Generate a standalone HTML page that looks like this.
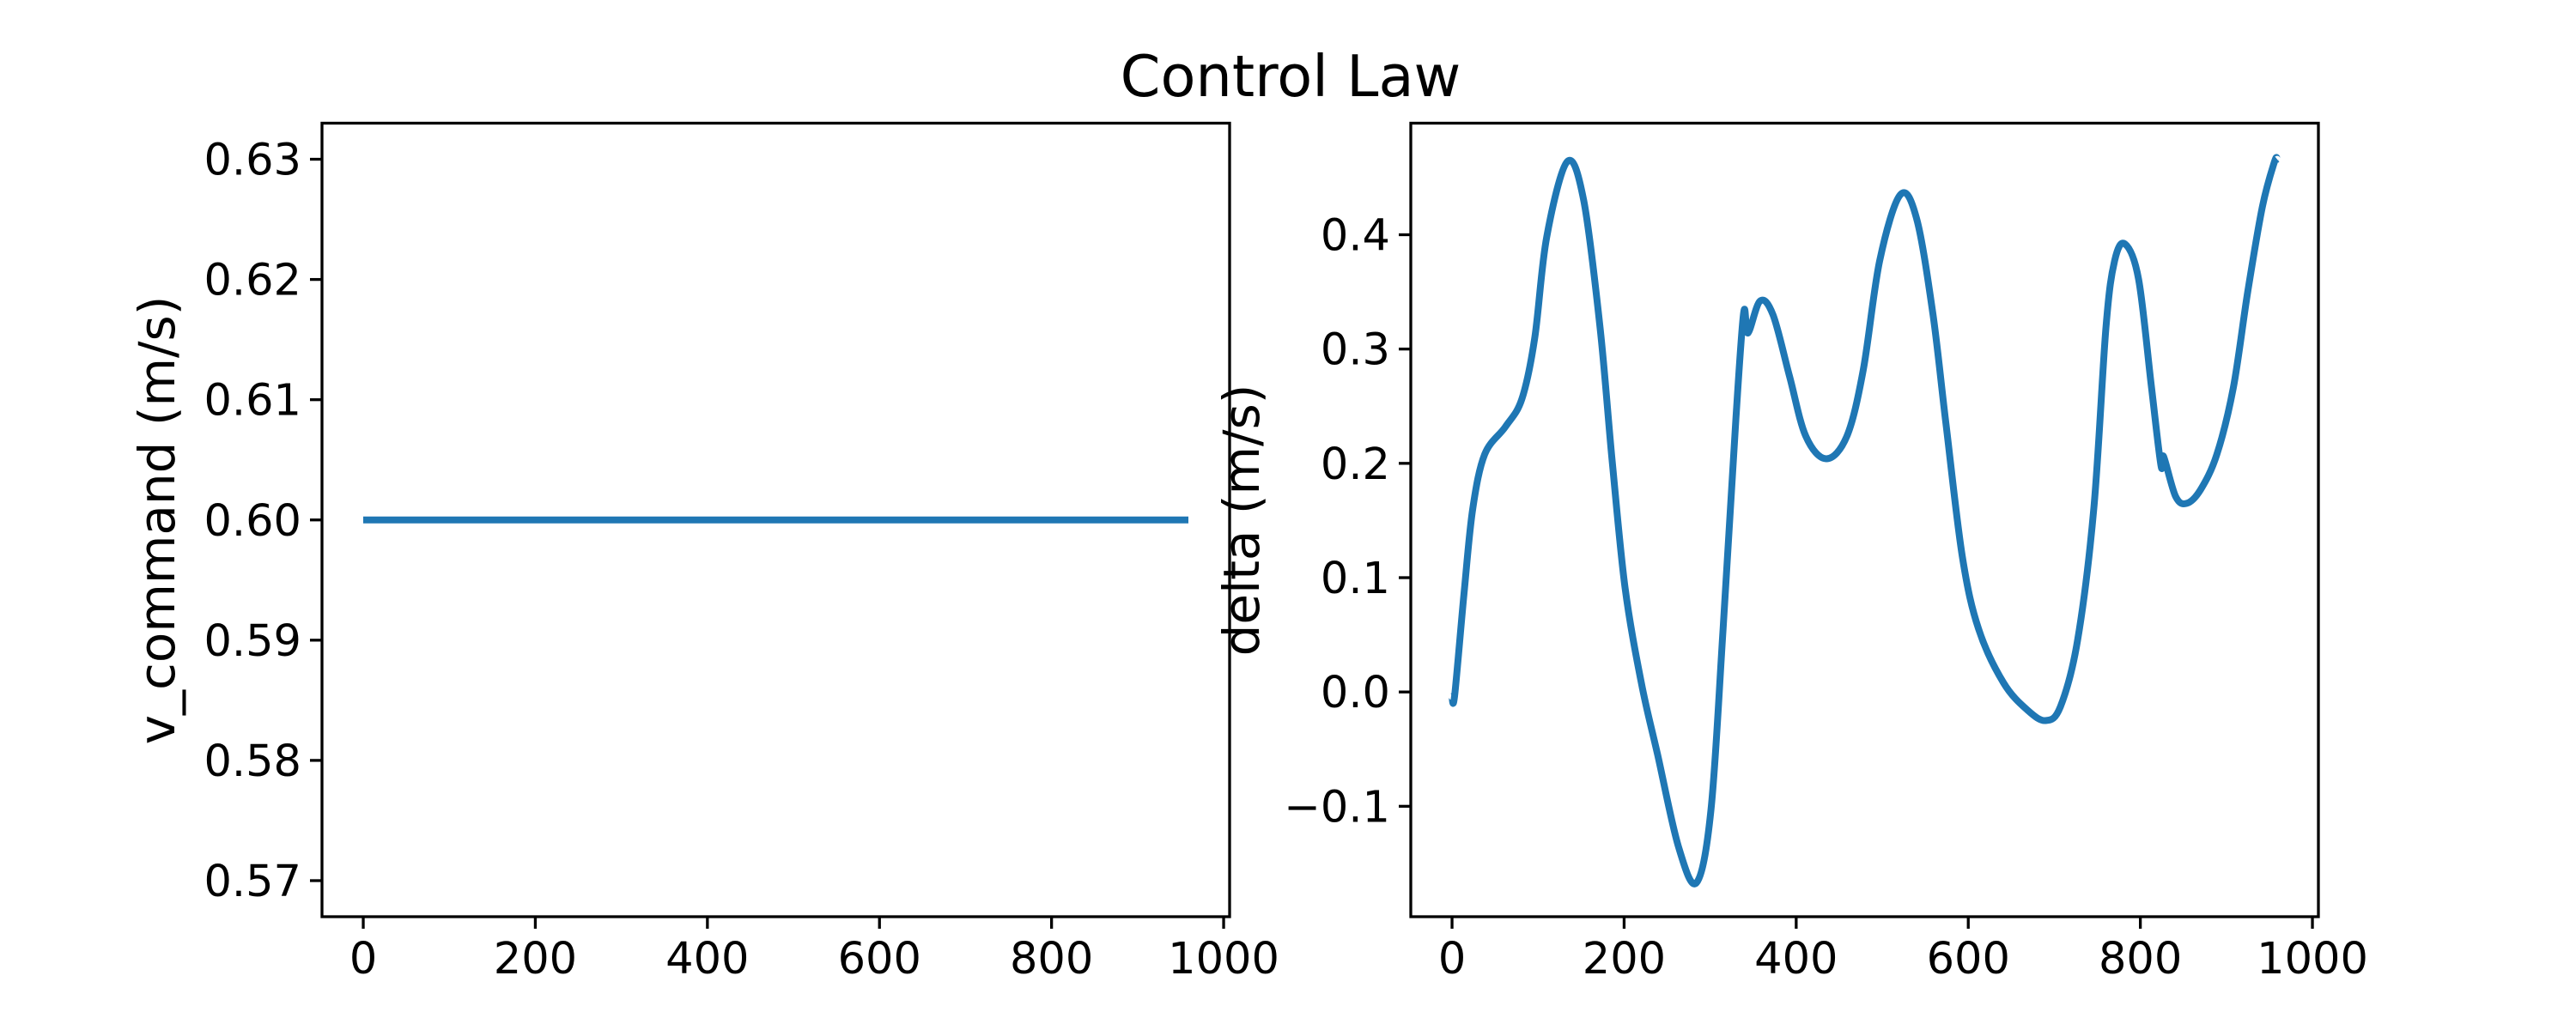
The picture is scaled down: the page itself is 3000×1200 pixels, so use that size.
<!DOCTYPE html>
<html><head><meta charset="utf-8"><style>
html,body{margin:0;padding:0;background:#fff;}
svg{display:block;font-family:"DejaVu Sans","Liberation Sans",sans-serif;}
</style></head><body>
<svg id="fig" width="3000" height="1200" viewBox="0 0 3000 1200">
<rect width="3000" height="1200" fill="#fff"/>
<text x="1503" y="112" font-size="67" text-anchor="middle">Control Law</text>
</svg>
<script>
const vTimes = [0, 959];
const vValues = [0.6, 0.6];
const vYTicks = [0.57, 0.58, 0.59, 0.60, 0.61, 0.62, 0.63];
const vYTickLabels = ["0.57","0.58","0.59","0.60","0.61","0.62","0.63"];
const xTicks = [0, 200, 400, 600, 800, 1000];
const xTickLabels = ["0","200","400","600","800","1000"];
const deltaTimes = [0,3,14,24,38,62,81,96,110,134,153,172,186,201,220,239,263,284,301,315,330,339,344,358,373,392,411,435,459,478,497,521,540,559,574,593,612,641,669,690,707,727,746,760,770,782,798,813,824,827,841,854,870,889,908,925,942,956,959];
const deltaValues = [-0.004,-0.003,0.087,0.16,0.208,0.232,0.256,0.309,0.398,0.464,0.43,0.319,0.203,0.092,0.008,-0.055,-0.135,-0.167,-0.103,0.055,0.24,0.332,0.314,0.342,0.33,0.277,0.224,0.204,0.224,0.282,0.377,0.435,0.414,0.33,0.235,0.119,0.055,0.008,-0.016,-0.025,-0.013,0.045,0.161,0.319,0.377,0.392,0.361,0.266,0.198,0.206,0.171,0.165,0.177,0.208,0.266,0.351,0.425,0.464,0.466];
const dYTicks = [-0.1, 0.0, 0.1, 0.2, 0.3, 0.4];
const dYTickLabels = ["\u22120.1","0.0","0.1","0.2","0.3","0.4"];

const NS = "http://www.w3.org/2000/svg";
const svg = document.getElementById('fig');
function mk(tag, attrs, parent){ const e = document.createElementNS(NS, tag); for (const k in attrs) e.setAttribute(k, attrs[k]); (parent||svg).appendChild(e); return e; }

function smoothPath(pts){
  if (pts.length < 3) return pts.map((p,i)=>(i?'L':'M')+p[0].toFixed(1)+','+p[1].toFixed(1)).join('');
  let d = 'M'+pts[0][0].toFixed(1)+','+pts[0][1].toFixed(1);
  for (let i=0;i<pts.length-1;i++){
    const p0 = pts[Math.max(0,i-1)], p1 = pts[i], p2 = pts[i+1], p3 = pts[Math.min(pts.length-1,i+2)];
    const c1x = p1[0] + (p2[0]-p0[0])/6, c1y = p1[1] + (p2[1]-p0[1])/6;
    const c2x = p2[0] - (p3[0]-p1[0])/6, c2y = p2[1] - (p3[1]-p1[1])/6;
    d += 'C'+c1x.toFixed(1)+','+c1y.toFixed(1)+' '+c2x.toFixed(1)+','+c2y.toFixed(1)+' '+p2[0].toFixed(1)+','+p2[1].toFixed(1);
  }
  return d;
}

function drawPanel(opt){
  const L=opt.left, R=opt.left+1057, T=143.5, B=1068;
  const sx = v => L + (v - opt.xmin)/(opt.xmax-opt.xmin)*(R-L);
  const sy = v => B - (v - opt.ymin)/(opt.ymax-opt.ymin)*(B-T);
  const g = mk('g', {});
  
  
  const pts = opt.xs.map((x,i)=>[sx(x), sy(opt.ys[i])]);
  const p = mk('path', {d:smoothPath(pts), fill:'none', stroke:'#1f77b4', 'stroke-width':8, 'stroke-linejoin':'round', 'stroke-linecap':'butt'}, g);
  
  
  xTicks.forEach((t,i)=>{
    const x = sx(t);
    mk('line',{x1:x,x2:x,y1:B,y2:B+14,stroke:'#000','stroke-width':3.3},g);
    const tx = mk('text',{x:x,y:1134,'font-size':51,'text-anchor':'middle'},g);
    tx.textContent = xTickLabels[i];
    
    
  });
  opt.yticks.forEach((t,i)=>{
    const y = sy(t);
    mk('line',{x1:L-14,x2:L,y1:y,y2:y,stroke:'#000','stroke-width':3.3},g);
    const ty = mk('text',{x:L-24,y:y+18,'font-size':51,'text-anchor':'end'},g);
    ty.textContent = opt.ylabels[i];
    
    
  });
  const fr = mk('rect',{x:L,y:T,width:R-L,height:B-T,fill:'none',stroke:'#000','stroke-width':3.3},g);
  
  
  const yl = mk('text',{x:0,y:0,'font-size':58,'text-anchor':'middle',transform:'translate('+opt.labelX+',606) rotate(-90)'},g);
  yl.textContent = opt.ylabel;
  
  
}

drawPanel({name:'v-command-panel', left:375, xmin:-47.95, xmax:1006.95, ymin:0.567, ymax:0.633, xs:vTimes, ys:vValues, yticks:vYTicks, ylabels:vYTickLabels, ylabel:'v_command (m/s)', labelX:203});
drawPanel({name:'delta-panel', left:1643, xmin:-47.95, xmax:1006.95, ymin:-0.1966, ymax:0.4976, xs:deltaTimes, ys:deltaValues, yticks:dYTicks, ylabels:dYTickLabels, ylabel:'delta (m/s)', labelX:1466});
</script>
</body></html>
